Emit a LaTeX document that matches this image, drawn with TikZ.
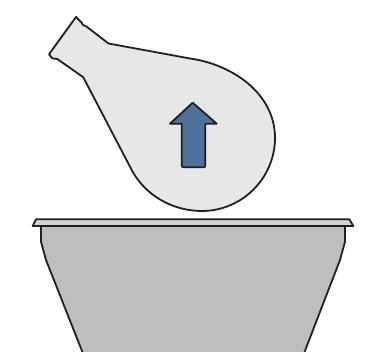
\documentclass[tikz,border=0pt]{standalone}
\definecolor{flask}{HTML}{E6E7E8}
\definecolor{arrowblue}{HTML}{4F729C}
\definecolor{bowl}{HTML}{BCBEC0}
\definecolor{rim}{HTML}{D1D3D4}
\definecolor{ink}{HTML}{231F20}
\tikzset{outline/.style={draw=ink,line width=1.8pt,line join=round}}
\begin{document}
\begin{tikzpicture}[x=1pt,y=-1pt]
\useasboundingbox (0,0) rectangle (370,352);
\clip (0,0) rectangle (370,352);
% flask
\path[outline,fill=flask] (76,17) -- (81.7,22.7) -- (83,25) -- (86.7,26.7) -- (108.5,43.5) -- (190,58.5)
  .. controls (230,64) and (275,92) .. (275,138)
  .. controls (275,178) and (242,211) .. (202,211)
  .. controls (172,211) and (145,195) .. (131.7,170)
  -- (83.3,77.3) -- (57.3,59) -- (52.3,58.3) -- (49,54.3) -- cycle;
% arrow
\path[outline,fill=arrowblue] (192.7,102.7) -- (216.7,123.7) -- (205.3,123.7) -- (205.3,165.3)
  .. controls (205.3,166.6) and (204.6,167.3) .. (203.3,167.3) -- (183.7,167.3)
  .. controls (182.4,167.3) and (181.7,166.6) .. (181.7,165.3) -- (181.7,123.7) -- (170,123.7) -- cycle;
% bowl
\path[outline,fill=bowl] (41,226) -- (41,241.7) -- (46,260) -- (84,356) -- (303,356) -- (340,260) -- (345,241.7) -- (345,226) -- cycle;
\path[outline,fill=rim] (36,219.3) -- (349.3,219.3) -- (353.3,226) -- (32.7,226) -- cycle;
\end{tikzpicture}
\end{document}
